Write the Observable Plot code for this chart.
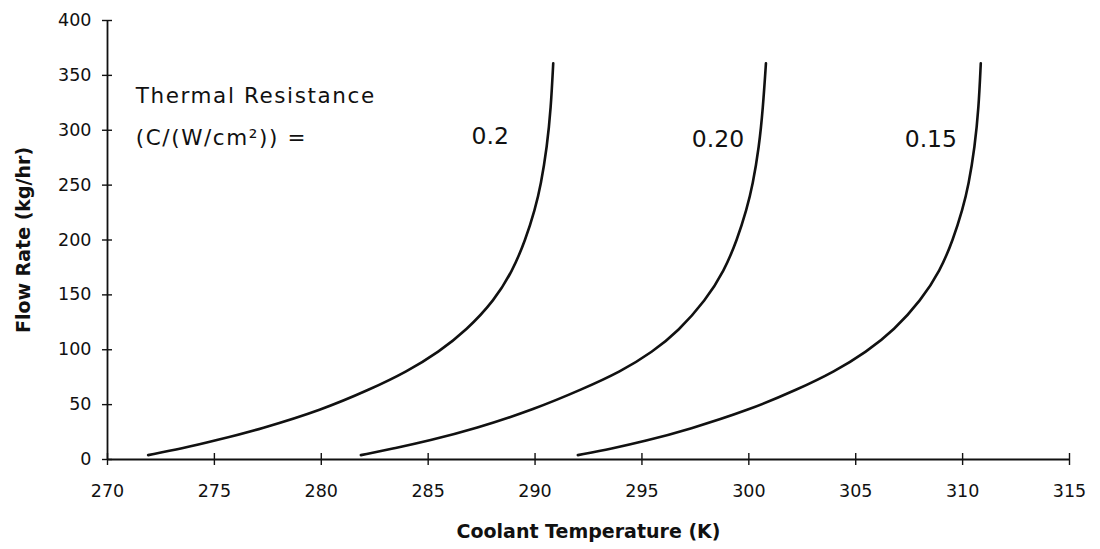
<!DOCTYPE html>
<html><head><meta charset="utf-8">
<script src="https://cdn.jsdelivr.net/npm/d3@7"></script>
<script src="https://cdn.jsdelivr.net/npm/@observablehq/plot@0.6"></script>
<style>body{margin:0;background:#fff}</style>
</head><body><div id="chart"></div>
<script>
// Tick values
const xTicks = [270, 275, 280, 285, 290, 295, 300, 305, 310, 315];
const yTicks = [0, 50, 100, 150, 200, 250, 300, 350, 400];

// Series (thermal resistance labels, as printed)
const seriesNames = ["0.2", "0.20", "0.15"];

// Curve 1
const temp1 = [271.9, 273.5, 275, 277.2, 280, 282.3, 284, 285.5, 286.8, 288.1, 288.95, 289.55, 290.0, 290.27, 290.56, 290.74, 290.85];
const flow1 = [4, 10, 17, 28, 45, 64, 80, 98, 118, 145, 172, 200, 228, 250, 285, 320, 361];
// Curve 2
const temp2 = [281.85, 283.5, 285, 287.2, 290, 292.2, 294, 295.5, 296.7, 297.98, 298.85, 299.45, 299.9, 300.18, 300.48, 300.66, 300.8];
const flow2 = [4, 10.5, 17, 28, 46, 64, 80, 98, 117, 145, 172, 200, 228, 250, 285, 320, 361];
// Curve 3
const temp3 = [292, 293.6, 295.1, 297.2, 300, 302.3, 304, 305.5, 306.8, 308.05, 308.95, 309.55, 310.0, 310.28, 310.57, 310.75, 310.85];
const flow3 = [4, 10, 16.5, 27.5, 45, 64, 80, 98, 118, 145, 172, 200, 228, 250, 285, 320, 361];

// Curve labels (placed in data units)
const labelTemps = [287.03, 297.33, 307.29];
const labelFlows = [294.4, 291.7, 292.0];

// Annotation
const noteLines = ["Thermal Resistance", "(C/(W/cm\u00B2)) ="];
const noteTemps = [271.32, 271.32];
const noteFlows = [331.2, 292.8];

const xTitle = "Coolant Temperature (K)";
const yTitle = "Flow Rate (kg/hr)";

const rows = [];
[[temp1, flow1], [temp2, flow2], [temp3, flow3]].forEach(([t, f], k) =>
  t.forEach((x, i) => rows.push({series: seriesNames[k], temp: x, flow: f[i]})));
const labels = seriesNames.map((s, i) => ({text: s, temp: labelTemps[i], flow: labelFlows[i]}));
const notes = noteLines.map((s, i) => ({text: s, temp: noteTemps[i], flow: noteFlows[i]}));

const W = 1100, H = 549, mT = 20, mB = 90, mL = 107, mR = 31;
const innerW = W - mL - mR, innerH = H - mT - mB;
const ink = "#111";

const chart = Plot.plot({
  width: W, height: H,
  marginTop: mT, marginBottom: mB, marginLeft: mL, marginRight: mR,
  x: {domain: [270, 315]},
  y: {domain: [0, 400]},
  style: {fontFamily: "DejaVu Sans", fontSize: "17.5px", background: "#fff", color: ink},
  marks: [
    Plot.axisX({ticks: xTicks, tickSize: 6, tickPadding: 19, label: null, strokeWidth: 1.4}),
    Plot.axisY({ticks: yTicks, tickSize: 5, tickPadding: 11, label: null, strokeWidth: 1.4}),
    Plot.tickX(xTicks, {x: d => d, insetTop: innerH - 6, stroke: ink, strokeWidth: 1.4}),
    Plot.tickY(yTicks, {y: d => d, insetRight: innerW - 5, stroke: ink, strokeWidth: 1.4}),
    Plot.ruleX([270], {stroke: ink, strokeWidth: 1.8}),
    Plot.ruleY([0], {stroke: ink, strokeWidth: 1.8}),
    Plot.line(rows, {x: "temp", y: "flow", z: "series", curve: "basis", stroke: ink, strokeWidth: 2.6}),
    Plot.text(labels, {x: "temp", y: "flow", text: "text", textAnchor: "start", lineAnchor: "middle", fontSize: 23.5, fill: ink}),
    Plot.text(notes, {x: "temp", y: "flow", text: "text", textAnchor: "start", lineAnchor: "middle", fontSize: 21.5, fill: ink}),
    Plot.text([xTitle], {text: d => d, frameAnchor: "bottom", textAnchor: "middle", lineAnchor: "middle", dy: 72, fontWeight: "bold", fontSize: 19, fill: ink}),
    Plot.text([yTitle], {text: d => d, frameAnchor: "left", textAnchor: "middle", lineAnchor: "middle", dx: -84, rotate: -90, fontWeight: "bold", fontSize: 19, fill: ink})
  ]
});
document.getElementById("chart").appendChild(chart);
d3.select(chart).selectAll("text")
  .filter(function() { return noteLines.includes(this.textContent); })
  .style("letter-spacing", "1.6px");
</script>
</body></html>
